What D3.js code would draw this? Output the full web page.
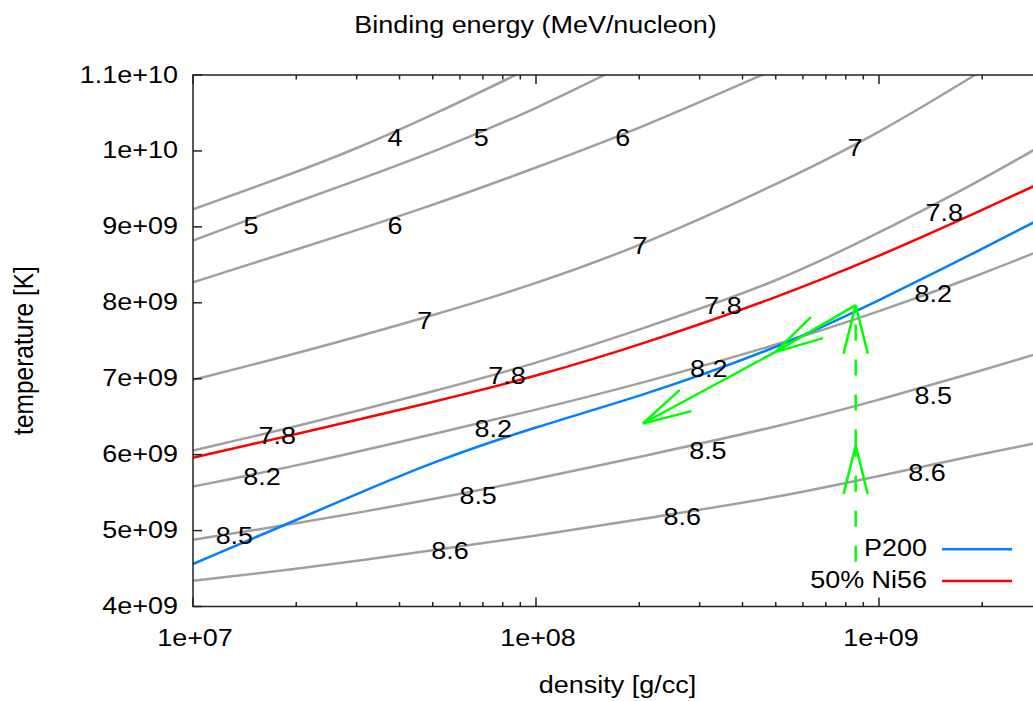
<!DOCTYPE html>
<html><head><meta charset="utf-8">
<script src="https://cdn.jsdelivr.net/npm/d3@7"></script>
<style>
body{margin:0;background:#fff;}
svg{display:block;}
text{font-family:"Liberation Sans",Arial,Helvetica,sans-serif;font-size:24.5px;fill:#000;}
</style>
</head><body>
<svg id="chart" width="1033" height="701"></svg>
<script>
// ---------- data ----------
const xTickValues = [1e7, 1e8, 1e9];
const xTickLabels = ["1e+07", "1e+08", "1e+09"];
const yTickValues = [4e9, 5e9, 6e9, 7e9, 8e9, 9e9, 1e10, 1.1e10];
const yTickLabels = ["4e+09", "5e+09", "6e+09", "7e+09", "8e+09", "9e+09", "1e+10", "1.1e+10"];

// contour lines of binding energy: [density g/cc, temperature K]
const be4  = [[1e7,9.23e9],[2e7,9.72e9],[3e7,10.03e9],[5e7,10.47e9],[1e8,11.13e9]];
const be5  = [[1e7,8.82e9],[2e7,9.33e9],[3e7,9.61e9],[5e7,9.98e9],[1e8,10.55e9],[2e8,11.23e9]];
const be6  = [[1e7,8.27e9],[2e7,8.70e9],[5e7,9.28e9],[1e8,9.78e9],[2e8,10.29e9],[5e8,11.08e9]];
const be7  = [[1e7,6.985e9],[2e7,7.33e9],[5e7,7.83e9],[1e8,8.25e9],[2e8,8.74e9],[5e8,9.55e9],[1e9,10.23e9],[2e9,11.06e9]];
const be78 = [[1e7,6.055e9],[2e7,6.37e9],[5e7,6.83e9],[1e8,7.20e9],[2e8,7.645e9],[5e8,8.26e9],[1e9,8.92e9],[2e9,9.62e9],[3e9,10.08e9]];
const be82 = [[1e7,5.58e9],[2e7,5.85e9],[5e7,6.27e9],[1e8,6.59e9],[2e8,6.93e9],[5e8,7.44e9],[1e9,7.88e9],[2e9,8.38e9],[3e9,8.70e9]];
const be85 = [[1e7,4.88e9],[2e7,5.09e9],[5e7,5.41e9],[1e8,5.68e9],[2e8,5.97e9],[5e8,6.36e9],[1e9,6.72e9],[2e9,7.11e9],[3e9,7.35e9]];
const be86 = [[1e7,4.34e9],[2e7,4.49e9],[5e7,4.74e9],[1e8,4.93e9],[2e8,5.15e9],[5e8,5.43e9],[1e9,5.72e9],[2e9,6.01e9],[3e9,6.17e9]];
const contourLines = [be4, be5, be6, be7, be78, be82, be85, be86];

// contour labels
const labelText    = ["4","5","5","6","6","7","7","7","7.8","7.8","7.8","7.8","8.2","8.2","8.2","8.2","8.5","8.5","8.5","8.5","8.6","8.6","8.6"];
const labelDensity = [3.88e7,6.92e7,1.476e7,1.79e8,3.88e7,8.51e8,2.01e8,4.74e7,1.55e9,3.51e8,8.23e7,1.76e7,1.44e9,3.19e8,7.50e7,1.59e7,1.44e9,3.17e8,6.78e7,1.32e7,1.38e9,2.67e8,5.61e7];
const labelTemp    = [10.18e9,10.18e9,9.02e9,10.18e9,9.02e9,10.05e9,8.76e9,7.77e9,9.19e9,7.97e9,7.04e9,6.25e9,8.12e9,7.14e9,6.35e9,5.71e9,6.78e9,6.06e9,5.46e9,4.94e9,5.77e9,5.19e9,4.74e9];

// P200 and 50% Ni56 lines
const p200 = [[1e7,4.56e9],[2e7,5.14e9],[3e7,5.48e9],[5e7,5.905e9],[1e8,6.37e9],[2e8,6.76e9],[5e8,7.39e9],[1e9,8.03e9],[2e9,8.71e9],[3e9,9.12e9]];
const ni56 = [[1e7,5.96e9],[2e7,6.27e9],[5e7,6.69e9],[1e8,7.03e9],[2e8,7.44e9],[5e8,8.06e9],[1e9,8.61e9],[2e9,9.22e9],[3e9,9.59e9]];

// trajectory arrows
const trajDashed = [[8.55e8,4.59e9],[8.55e8,6.12e9],[8.55e8,7.97e9]];
const trajSolid  = [[8.55e8,7.97e9],[4.98e8,7.35e9],[2.05e8,6.41e9]];

const legendNames = ["P200", "50% Ni56"];
const legendColors = ["#0080ff", "#ff0000"];

// ---------- drawing ----------
const svg = d3.select("#chart");
const pL = 193, pT = 75, pB = 606.5;
const pR = pL + 343 * Math.log10(3e9 / 1e7);

const x = d3.scaleLog().domain([1e7, 3e9]).range([pL, pR]);
const y = d3.scaleLinear().domain([4e9, 1.1e10]).range([pB, pT]);
const SX = 1.1;

function txt(g, s, px, py, anchor, rot) {
  const t = g.append("text").text(s).attr("text-anchor", anchor || "start");
  if (rot) t.attr("transform", `translate(${px},${py}) rotate(-90) scale(1,${SX})`);
  else t.attr("transform", `translate(${px},${py}) scale(${SX},1)`);
  return t;
}

svg.append("defs").append("clipPath").attr("id", "clip")
  .append("rect").attr("x", pL).attr("y", pT).attr("width", pR - pL).attr("height", pB - pT);

const line = d3.line().x(d => x(d[0])).y(d => y(d[1])).curve(d3.curveBasis);
const plot = svg.append("g").attr("clip-path", "url(#clip)");

plot.selectAll("path.contour").data(contourLines).enter().append("path")
  .attr("class", "contour").attr("d", line)
  .attr("fill", "none").attr("stroke", "#a0a0a0").attr("stroke-width", 2.5);

plot.append("path").datum(ni56).attr("d", line).attr("fill", "none").attr("stroke", legendColors[1]).attr("stroke-width", 2.5);
plot.append("path").datum(p200).attr("d", line).attr("fill", "none").attr("stroke", legendColors[0]).attr("stroke-width", 2.5);

// contour labels
const lg = svg.append("g");
labelText.forEach((s, i) => {
  txt(lg, s, x(labelDensity[i]), y(labelTemp[i]) + 8.5, "middle");
});

// arrows
function headPath(p0, p1) {
  const dx = p0[0] - p1[0], dy = p0[1] - p1[1];
  const len = Math.hypot(dx, dy), ux = dx / len, uy = dy / len;
  const L = 50, a = 14 * Math.PI / 180;
  const h1 = [p1[0] + L * (ux * Math.cos(a) - uy * Math.sin(a)), p1[1] + L * (ux * Math.sin(a) + uy * Math.cos(a))];
  const h2 = [p1[0] + L * (ux * Math.cos(-a) - uy * Math.sin(-a)), p1[1] + L * (ux * Math.sin(-a) + uy * Math.cos(-a))];
  return `M${h1[0]},${h1[1]}L${p1[0]},${p1[1]}L${h2[0]},${h2[1]}`;
}
function drawArrows(pts, dashed) {
  for (let i = 0; i < pts.length - 1; i++) {
    const p0 = [x(pts[i][0]), y(pts[i][1])], p1 = [x(pts[i + 1][0]), y(pts[i + 1][1])];
    const seg = plot.append("path").attr("d", `M${p0[0]},${p0[1]}L${p1[0]},${p1[1]}`)
      .attr("fill", "none").attr("stroke", "#00ff00").attr("stroke-width", 2.5);
    if (dashed) seg.attr("stroke-dasharray", "16,19");
    plot.append("path").attr("d", headPath(p0, p1))
      .attr("fill", "none").attr("stroke", "#00ff00").attr("stroke-width", 2.5);
  }
}
drawArrows(trajDashed, true);
drawArrows(trajSolid, false);

// axes frame
const ax = svg.append("g").attr("stroke", "#222").attr("stroke-width", 1.5).attr("fill", "none");
ax.append("path").attr("d", `M${pR},${pT}H${pL}V${pB}H${pR}`);

const xAll = x.ticks();
xAll.forEach(v => {
  const major = xTickValues.some(t => Math.abs(t - v) / t < 1e-6);
  const len = major ? 9 : 4.5;
  const px = x(v);
  ax.append("line").attr("x1", px).attr("x2", px).attr("y1", pB).attr("y2", pB - len);
  ax.append("line").attr("x1", px).attr("x2", px).attr("y1", pT).attr("y2", pT + len);
});
yTickValues.forEach(v => {
  const py = y(v);
  ax.append("line").attr("x1", pL).attr("x2", pL + 9).attr("y1", py).attr("y2", py);
  ax.append("line").attr("x1", pR).attr("x2", pR - 9).attr("y1", py).attr("y2", py);
});

const tg = svg.append("g");
xTickValues.forEach((v, i) => txt(tg, xTickLabels[i], x(v) + 2, pB + 39.5, "middle"));
yTickValues.forEach((v, i) => txt(tg, yTickLabels[i], 178, y(v) + 7.5, "end"));

// titles
txt(tg, "Binding energy (MeV/nucleon)", 535.5, 33, "middle");
txt(tg, "density [g/cc]", 617.5, 693, "middle");
txt(tg, "temperature [K]", 33, 350.5, "middle", true);

// legend
const legY = [549.3, 581];
legendNames.forEach((n, i) => {
  txt(tg, n, 927, legY[i] + 6.5, "end");
  svg.append("line").attr("x1", 942).attr("x2", 1012).attr("y1", legY[i]).attr("y2", legY[i])
    .attr("stroke", legendColors[i]).attr("stroke-width", 2.5);
});
</script>
</body></html>
